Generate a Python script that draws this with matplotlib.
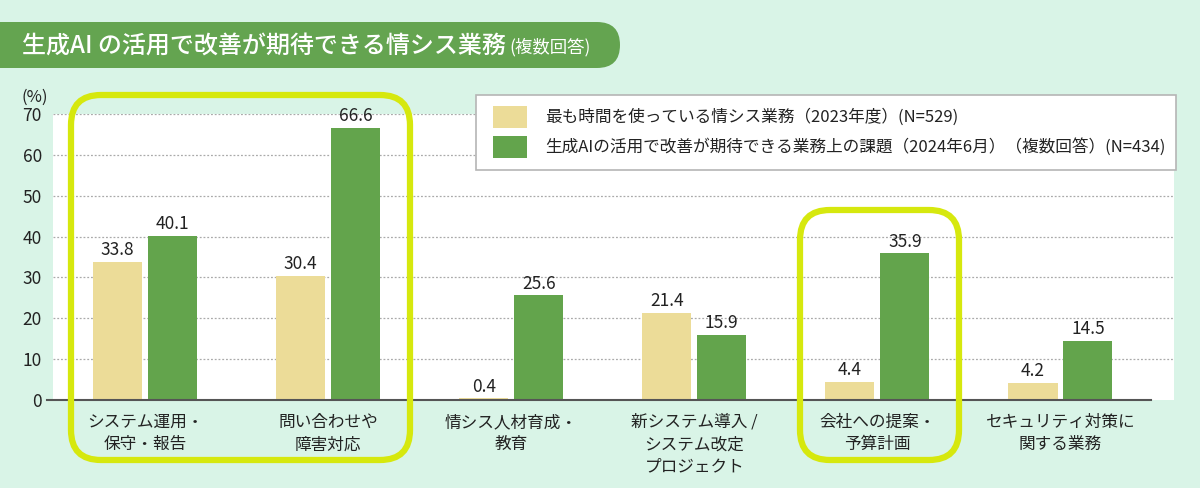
import matplotlib
matplotlib.use("Agg")
import matplotlib.pyplot as plt
from matplotlib.patches import FancyBboxPatch, Rectangle

plt.rcParams['font.family'] = ['Noto Sans CJK JP', 'DejaVu Sans']

categories = ["システム運用・\n保守・報告", "問い合わせや\n障害対応", "情シス人材育成・\n教育",
              "新システム導入 /\nシステム改定\nプロジェクト", "会社への提案・\n予算計画", "セキュリティ対策に\n関する業務"]
series_2023 = [33.8, 30.4, 0.4, 21.4, 4.4, 4.2]
series_2024 = [40.1, 66.6, 25.6, 15.9, 35.9, 14.5]
legend_labels = ["最も時間を使っている情シス業務（2023年度）(N=529)",
                 "生成AIの活用で改善が期待できる業務上の課題（2024年6月）（複数回答）(N=434)"]
yticks = [0, 10, 20, 30, 40, 50, 60, 70]
title_main = "生成AI の活用で改善が期待できる情シス業務"
title_sub = "(複数回答)"

BG = '#d9f4e7'
BEIGE = '#ecdc98'
GREEN = '#63a44c'
HIGHLIGHT = '#d6e80e'
TXT = '#222222'
W, H = 1200, 488

fig = plt.figure(figsize=(12, 4.88), dpi=100, facecolor=BG)

def fx(x):
    return x / W

def fy(y):
    return 1 - y / H

# axes: white plot region in pixels x 53..1174, y 114..400
ax = fig.add_axes([fx(53), fy(400), (1174 - 53) / W, (400 - 114) / H])
ax.set_facecolor('white')
ax.set_xlim(-0.503, 5.62)
ax.set_ylim(0, 70)
for s in ax.spines.values():
    s.set_visible(False)

for t in yticks[1:]:
    ax.axhline(t, color='#aaaaaa', lw=0.9, ls=(0, (1.5, 1.5)), zorder=1)

xs = list(range(len(categories)))
bw = 0.268
off = 0.150
b1 = ax.bar([x - off for x in xs], series_2023, width=bw, color=BEIGE, zorder=3)
b2 = ax.bar([x + off for x in xs], series_2024, width=bw, color=GREEN, zorder=3)

for bars, vals in ((b1, series_2023), (b2, series_2024)):
    for r, v in zip(bars, vals):
        ax.annotate(f"{v:.1f}", (r.get_x() + r.get_width() / 2, v), xytext=(0, 2),
                    textcoords='offset points', ha='center', va='bottom',
                    fontsize=12.5, color=TXT, zorder=4)

# zero axis line
ax.plot([-0.535, 5.497], [0, 0], color='#555555', lw=1.5, clip_on=False, zorder=5)

ax.set_yticks(yticks)
ax.set_yticklabels([str(t) for t in yticks], fontsize=12.5, color=TXT)
ax.tick_params(axis='y', length=0, pad=8)
ax.set_xticks(xs)
ax.set_xticklabels(categories, fontsize=12, color=TXT, linespacing=1.42, va='top')
ax.tick_params(axis='x', length=0, pad=10)

fig.text(fx(21), fy(97), "(%)", fontsize=12, color=TXT, va='center', ha='left')

# title pill (display coords = pixels from bottom-left)
pill = FancyBboxPatch((-40, H - 68), 660, 46, boxstyle="round,pad=0,rounding_size=23",
                      transform=None, facecolor='#64a450', edgecolor='none', zorder=1)
fig.patches.append(pill)
t1 = fig.text(fx(22), fy(46), title_main, fontsize=17.3, color='white', va='center', ha='left',
              fontweight='medium')
fig.canvas.draw()
bb = t1.get_window_extent()
fig.text(bb.x1 / W + 0.003, fy(47), title_sub, fontsize=12.5, color='white', va='center', ha='left')

# legend box
leg = Rectangle((476, H - 170), 700, 75, transform=None, facecolor='white',
                edgecolor='#b5b5b5', lw=1.2, zorder=6)
fig.patches.append(leg)
for i, (c, lab) in enumerate(((BEIGE, legend_labels[0]), (GREEN, legend_labels[1]))):
    yc = 117 + i * 30
    sq = Rectangle((493, H - yc - 11), 34, 22, transform=None, facecolor=c, edgecolor='none', zorder=7)
    fig.patches.append(sq)
    fig.text(fx(545), fy(yc), lab, fontsize=12, color=TXT, va='center', ha='left', zorder=8)

# highlight rounded boxes
for (x0, y0, x1, y1) in ((71, 95, 410, 460), (800, 210, 959, 460)):
    hb = FancyBboxPatch((x0, H - y1), x1 - x0, y1 - y0,
                        boxstyle="round,pad=0,rounding_size=30", transform=None,
                        facecolor='none', edgecolor=HIGHLIGHT, lw=4.5, zorder=10)
    fig.patches.append(hb)

fig.savefig("out.png", dpi=100, facecolor=BG)
